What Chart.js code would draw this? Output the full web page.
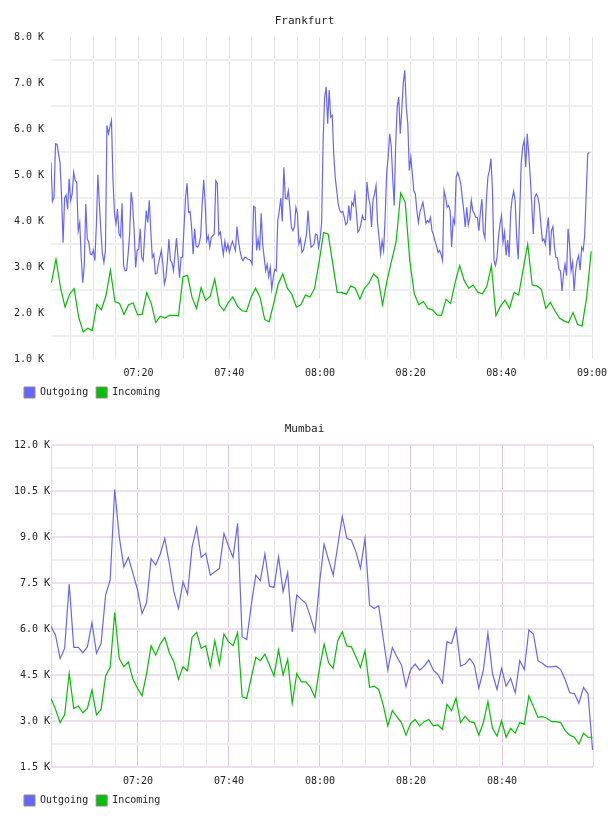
<!DOCTYPE html>
<html>
<head>
<meta charset="utf-8">
<title>Traffic - Frankfurt / Mumbai</title>
<script src="https://cdn.jsdelivr.net/npm/chart.js@4.4.1/dist/chart.umd.min.js"></script>
<style>
  html, body { margin: 0; padding: 0; background: #fff; }
  .chart-box { width: 608px; height: 408px; position: relative; overflow: hidden; }
</style>
</head>
<body>
<div class="chart-box"><canvas id="chart-frankfurt" width="608" height="408"></canvas></div>
<div class="chart-box"><canvas id="chart-mumbai" width="608" height="408"></canvas></div>
<script>
// Values are in K. Outgoing for Frankfurt is sampled every 20 s, everything else every minute.
var frankfurtOutgoingStart = "07:00:42";
var frankfurtOutgoingStep = 20;
var frankfurtOutgoing = [
  5.28, 4.43, 4.52, 5.68, 5.67, 5.46, 5.26, 4.52, 3.53, 4.50,
  4.57, 4.26, 4.92, 4.45, 4.59, 5.06, 4.88, 4.85, 3.79, 3.97,
  3.21, 2.66, 3.03, 4.37, 3.61, 3.54, 3.28, 3.27, 3.37, 3.14,
  3.90, 5.01, 4.37, 3.79, 3.28, 3.10, 3.36, 6.08, 5.90, 6.05,
  6.19, 4.88, 4.16, 3.94, 4.26, 3.72, 3.66, 4.39, 3.03, 2.92,
  2.93, 3.28, 3.72, 4.63, 4.37, 3.79, 2.99, 3.36, 3.39, 3.83,
  3.21, 3.14, 3.72, 4.23, 3.97, 4.45, 3.79, 3.21, 3.28, 2.85,
  2.86, 3.06, 3.21, 3.36, 3.06, 2.63, 2.77, 3.14, 3.61, 3.14,
  3.10, 2.92, 3.28, 3.63, 3.21, 2.77, 3.21, 3.22, 3.87,
  4.52, 4.82, 4.19, 4.21, 3.87, 3.28, 3.83, 3.46, 3.43, 3.50,
  3.68, 4.37, 4.90, 4.37, 3.57, 3.68, 3.43, 3.65, 3.68, 3.72,
  4.88, 4.82, 3.70, 3.76, 3.50, 3.27, 3.56, 3.36, 3.50, 3.32,
  3.46, 3.56, 3.46, 3.36, 3.88, 3.57, 3.36, 3.20, 3.14, 3.21,
  3.21, 3.17, 3.17, 3.14, 3.06, 4.32, 4.30, 3.36, 3.61, 3.36,
  4.17, 3.50, 3.21, 2.92, 3.06, 2.79, 2.99, 2.52, 2.77, 2.95,
  2.92, 4.01, 4.23, 4.50, 3.99, 5.17, 4.50, 4.48, 4.66, 4.30,
  3.87, 3.79, 3.87, 4.30, 4.16, 3.50, 3.61, 3.32, 3.37, 3.54,
  3.72, 4.23, 3.76, 3.43, 3.46, 3.50, 3.72, 3.70, 3.43, 3.61, 3.97,
  5.76, 6.70, 6.92, 6.12, 6.85, 6.26, 6.30, 5.46, 4.96, 4.66,
  4.37, 4.23, 4.19, 4.21, 4.08, 3.92, 3.97, 4.34, 4.01, 4.41,
  4.34, 4.59, 4.19, 3.76, 3.81, 3.94, 4.12, 4.03, 4.03, 4.85,
  4.52, 4.37, 3.87, 4.45, 4.59, 4.77, 3.94, 3.65, 3.28, 3.57,
  3.36, 4.08, 5.03, 5.39, 5.90, 5.65, 4.96, 4.34, 5.68, 6.48,
  6.70, 5.90, 6.41, 6.99, 7.28, 6.48, 6.12, 5.10, 5.39, 5.03,
  4.66, 4.59, 4.23, 3.97, 4.19, 4.30, 4.41, 4.19, 3.95, 4.01,
  3.97, 4.08, 3.79, 3.70, 3.57, 3.46, 3.32, 3.36, 3.28, 3.14,
  4.66, 4.52, 4.30, 4.34, 4.23, 3.43, 4.05, 3.94,
  4.96, 5.06, 4.96, 4.82, 4.52, 4.23, 3.87, 4.30, 3.92, 4.08,
  4.45, 4.23, 4.16, 4.08, 4.08, 3.79, 4.19, 4.48, 3.76, 3.63,
  4.48, 4.96, 5.10, 5.36, 4.66, 3.14, 3.03, 3.21, 3.65, 3.94,
  4.12, 3.54, 3.76, 3.25, 3.59, 3.22, 4.16, 4.48, 4.65, 4.45,
  3.65, 3.17, 4.16, 5.25, 5.61, 5.76, 5.17, 5.90, 5.46, 4.96,
  4.37, 3.72, 4.52, 4.59, 4.52, 4.34, 3.94, 3.57, 3.61, 3.50,
  3.83, 4.08, 3.25, 3.79, 3.88, 3.43, 3.21, 3.20, 2.95, 2.92,
  2.48, 2.85, 3.06, 2.81, 3.83, 3.50, 2.92, 3.10, 2.48, 2.92,
  3.14, 3.25, 2.93, 3.43, 3.36, 3.68, 4.59, 5.46, 5.50
];

var frankfurtIncomingStart = "07:00:48";
var frankfurtIncoming = [
  2.66, 3.17, 2.55, 2.13, 2.41, 2.53, 1.91, 1.59, 1.67, 1.62,
  2.19, 2.07, 2.37, 2.93, 2.25, 2.21, 1.97, 2.18, 2.22, 1.96,
  1.97, 2.44, 2.21, 1.79, 1.93, 1.89, 1.95, 1.95, 1.94, 2.79,
  2.82, 2.34, 2.10, 2.55, 2.28, 2.36, 2.74, 2.18, 2.05, 2.23,
  2.35, 2.15, 2.05, 2.03, 2.34, 2.54, 2.34, 1.86, 1.81, 2.21,
  2.63, 2.85, 2.54, 2.41, 2.13, 2.18, 2.39, 2.35, 2.53, 3.10,
  3.75, 3.72, 3.09, 2.45, 2.45, 2.41, 2.59, 2.54, 2.30, 2.54,
  2.65, 2.85, 2.76, 2.18, 2.71, 3.14, 3.56, 4.61, 4.41, 3.14,
  2.42, 2.18, 2.25, 2.10, 2.07, 1.96, 1.95, 2.30, 2.21, 2.66,
  3.03, 2.71, 2.54, 2.61, 2.45, 2.42, 2.58, 3.03, 1.94, 2.15,
  2.28, 2.10, 2.45, 2.39, 2.95, 3.50, 2.61, 2.59, 2.52, 2.10,
  2.23, 2.05, 1.89, 1.83, 1.79, 2.01, 1.75, 1.72, 2.34, 3.34
];

var mumbaiStart = "07:00:54";
var mumbaiOutgoing = [
  6.08, 5.80, 5.04, 5.37, 7.47, 5.40, 5.40, 5.23, 5.42, 6.21,
  5.21, 5.53, 7.11, 7.60, 10.55, 9.01, 8.03, 8.34, 7.82, 7.29,
  6.51, 6.86, 8.30, 8.09, 8.45, 8.95, 8.14, 7.22, 6.67, 7.54,
  7.14, 8.68, 9.32, 8.34, 8.47, 7.76, 7.87, 7.98, 9.12, 8.71,
  8.34, 9.45, 5.75, 5.66, 6.78, 7.76, 7.58, 8.45, 7.40, 7.36,
  8.36, 7.22, 7.84, 5.91, 7.11, 6.97, 6.84, 6.40, 5.91, 7.49,
  8.77, 8.25, 7.76, 8.71, 9.68, 8.96, 8.90, 8.52, 7.98, 8.96,
  6.78, 6.67, 6.76, 5.70, 4.66, 5.40, 5.10, 4.83, 4.12, 4.68,
  4.86, 4.66, 4.79, 4.99, 4.66, 4.52, 4.25, 5.59, 5.53, 6.02,
  4.79, 4.86, 5.04, 4.83, 4.07, 4.66, 5.86, 4.55, 4.03, 4.72,
  4.14, 4.39, 3.92, 4.97, 4.68, 5.97, 5.84, 4.97, 4.88, 4.77,
  4.77, 4.79, 4.68, 4.34, 3.92, 3.90, 3.58, 4.10, 3.88, 2.05
];
var mumbaiIncoming = [
  3.74, 3.38, 2.95, 3.20, 4.55, 3.41, 3.49, 3.27, 3.41, 4.01,
  3.20, 3.38, 4.47, 4.75, 6.54, 5.04, 4.77, 4.93, 4.36, 4.07,
  3.82, 4.55, 5.46, 5.15, 5.51, 5.73, 5.23, 4.93, 4.36, 4.77,
  4.64, 5.73, 5.89, 5.37, 5.46, 4.77, 5.62, 4.86, 5.84, 5.59,
  5.46, 5.88, 3.79, 3.74, 4.42, 5.08, 4.97, 5.18, 4.83, 4.47,
  5.32, 4.50, 5.01, 3.58, 4.55, 4.28, 4.28, 4.10, 3.77, 4.72,
  5.51, 4.90, 4.72, 5.62, 5.91, 5.45, 5.42, 5.10, 4.75, 5.29,
  4.10, 4.14, 4.03, 3.52, 2.84, 3.34, 3.14, 2.95, 2.54, 2.92,
  3.05, 2.84, 2.98, 3.05, 2.84, 2.87, 2.73, 3.55, 3.34, 3.74,
  2.95, 3.16, 2.98, 2.95, 2.54, 2.95, 3.63, 2.76, 2.51, 3.01,
  2.47, 2.76, 2.60, 2.95, 2.90, 3.82, 3.47, 3.12, 3.14, 3.09,
  2.98, 2.98, 2.95, 2.68, 2.54, 2.47, 2.25, 2.60, 2.47, 2.47
];

// Axis settings (x in minutes after 07:00)
var frankfurtRange = { xMin: 0.7, xMax: 120.2, yMin: 1, yMax: 8, yStep: 0.5, yLabelEvery: 1 };
var mumbaiRange = { xMin: 0.9, xMax: 119.99, yMin: 1.5, yMax: 12, yStep: 0.75, yLabelEvery: 1.5 };

(function (window) {
  var MONO = "'DejaVu Sans Mono', 'Liberation Mono', monospace";
  var TEXT = "#222";
  var OUT_COLOR = "#6666ff";
  var IN_COLOR = "#00c000";

  // y tick labels are clipped to the axis box; let them use the left margin too
  var labelMargin = {
    id: "labelMargin",
    afterLayout: function (chart) {
      chart.scales.y.left = 0;
    }
  };

  function toMinutes(hms) {
    var p = hms.split(":");
    return (Number(p[0]) - 7) * 60 + Number(p[1]) + Number(p[2] || 0) / 60;
  }

  function pad(n) {
    return (n < 10 ? "0" : "") + n;
  }

  function formatTime(m) {
    var total = Math.round(m);
    return pad(7 + Math.floor(total / 60)) + ":" + pad(total % 60);
  }

  function toPoints(values, start, stepSeconds) {
    var t0 = toMinutes(start);
    return values.map(function (v, i) {
      return { x: t0 + (i * stepSeconds) / 60, y: v };
    });
  }

  function isMultiple(v, step) {
    var r = v / step;
    return Math.abs(r - Math.round(r)) < 1e-6;
  }

  function legendLabels(chart) {
    return chart.data.datasets.map(function (ds, i) {
      return {
        text: ds.label,
        fillStyle: ds.borderColor,
        strokeStyle: "#8a8a8a",
        lineWidth: 1,
        fontColor: TEXT,
        hidden: false,
        datasetIndex: i
      };
    });
  }

  function buildChart(canvasId, title, outgoing, incoming, range, isMumbai) {
    var pink = "#e6d2e6";
    var pinkDark = "#dcc6dc";

    var xGridColor = function (c) {
      var v = c.tick.value;
      if (isMumbai) {
        if (v === range.xMin || v === range.xMax) return pink;
        if (isMultiple(v, 20)) return pinkDark;
        return "#e6e6e6";
      }
      return "#e4e4e4";
    };

    var yGridColor = function (c) {
      var v = c.tick.value;
      var labelled = isMultiple(v, range.yLabelEvery);
      if (isMumbai) return labelled ? "#eddfed" : "#f0f0f0";
      return labelled ? "rgba(0,0,0,0)" : "#efefef";
    };

    return new Chart(document.getElementById(canvasId), {
      type: "line",
      plugins: [labelMargin],
      data: {
        datasets: [
          {
            label: "Outgoing",
            data: outgoing,
            borderColor: OUT_COLOR,
            backgroundColor: OUT_COLOR,
            borderWidth: 1.2,
            pointRadius: 0,
            tension: 0,
            fill: false
          },
          {
            label: "Incoming",
            data: incoming,
            borderColor: IN_COLOR,
            backgroundColor: IN_COLOR,
            borderWidth: 1.2,
            pointRadius: 0,
            tension: 0,
            fill: false
          }
        ]
      },
      options: {
        responsive: false,
        animation: false,
        devicePixelRatio: 1,
        events: [],
        layout: { padding: { left: 16, right: 15, top: 0, bottom: 0 } },
        plugins: {
          title: {
            display: true,
            text: title,
            color: TEXT,
            font: { family: MONO, size: 11, weight: "normal" },
            padding: { top: 15, bottom: 9 }
          },
          legend: {
            position: "bottom",
            align: "start",
            labels: {
              boxWidth: 11,
              boxHeight: 11,
              padding: 8,
              color: TEXT,
              font: { family: MONO, size: 10 },
              generateLabels: legendLabels
            }
          },
          tooltip: { enabled: false }
        },
        scales: {
          x: {
            type: "linear",
            min: range.xMin,
            max: range.xMax,
            border: { display: false },
            grid: {
              drawTicks: true,
              tickLength: 8,
              tickColor: "rgba(0,0,0,0)",
              color: xGridColor,
              lineWidth: 1
            },
            ticks: {
              stepSize: 5,
              includeBounds: isMumbai,
              autoSkip: false,
              maxRotation: 0,
              padding: 0,
              color: TEXT,
              font: { family: MONO, size: 10 },
              callback: function (v) {
                if (v === range.xMin || v === range.xMax) return "";
                return isMultiple(v, 20) ? formatTime(v) : "";
              }
            }
          },
          y: {
            min: range.yMin,
            max: range.yMax,
            afterFit: function (scale) { scale.width = 35; },
            border: { display: isMumbai, color: pink, width: 1 },
            grid: { drawTicks: false, color: yGridColor, lineWidth: 2 },
            ticks: {
              stepSize: range.yStep,
              autoSkip: false,
              padding: isMumbai ? 1 : 7,
              color: TEXT,
              font: { family: MONO, size: 10 },
              callback: function (v) {
                return isMultiple(v, range.yLabelEvery) ? v.toFixed(1) + " K" : "";
              }
            }
          }
        }
      }
    });
  }

  buildChart(
    "chart-frankfurt",
    "Frankfurt",
    toPoints(frankfurtOutgoing, frankfurtOutgoingStart, frankfurtOutgoingStep),
    toPoints(frankfurtIncoming, frankfurtIncomingStart, 60),
    frankfurtRange,
    false
  );

  buildChart(
    "chart-mumbai",
    "Mumbai",
    toPoints(mumbaiOutgoing, mumbaiStart, 60),
    toPoints(mumbaiIncoming, mumbaiStart, 60),
    mumbaiRange,
    true
  );
})(window);
</script>
</body>
</html>
